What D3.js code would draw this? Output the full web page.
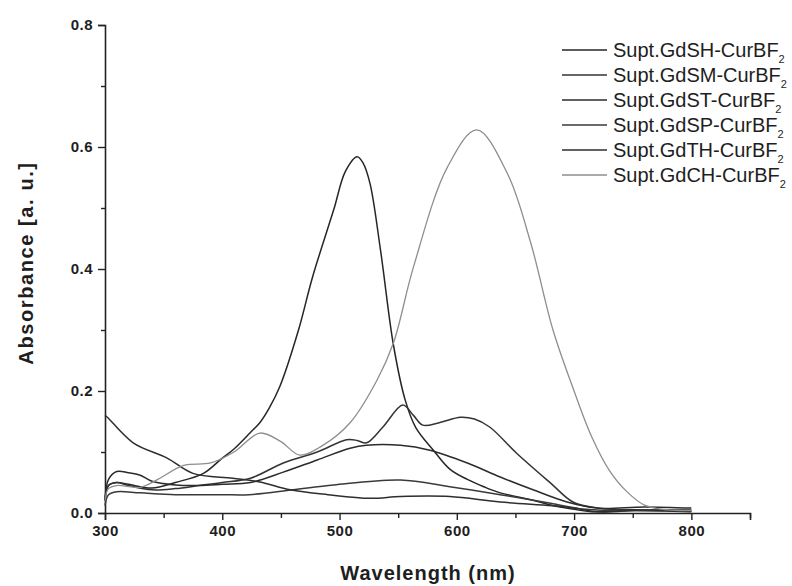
<!DOCTYPE html>
<meta charset="utf-8">
<script src="https://d3js.org/d3.v7.min.js"></script>
<style>
  body { margin: 0; background: #fff; }
  text { font-family: "Liberation Sans", Arial, sans-serif; fill: #1e1e1e; }
</style>
<div id="chart"></div>
<script>

// series names (legend order)
var names = ["Supt.GdSH-CurBF", "Supt.GdSM-CurBF", "Supt.GdST-CurBF",
             "Supt.GdSP-CurBF", "Supt.GdTH-CurBF", "Supt.GdCH-CurBF"];

// wavelength (nm) / absorbance pairs
var gdSH_wl = [300, 303, 310, 320, 340, 360, 384, 400, 410, 424, 432, 440, 449, 465, 477, 495, 505, 515, 520, 526, 535, 546, 556, 565, 580, 594, 609, 623, 637, 665, 680, 700, 715, 750, 800];
var gdSH_ab = [0.02, 0.045, 0.05, 0.047, 0.041, 0.05, 0.065, 0.09, 0.105, 0.132, 0.148, 0.172, 0.207, 0.3, 0.387, 0.497, 0.56, 0.584, 0.574, 0.54, 0.43, 0.275, 0.185, 0.14, 0.103, 0.072, 0.055, 0.043, 0.033, 0.021, 0.013, 0.006, 0.002, 0.004, 0.002];

var gdSM_wl = [300, 303, 310, 320, 340, 360, 380, 400, 424, 452, 481, 506, 515, 523, 537, 554, 563, 571, 585, 603, 615, 628, 651, 680, 699, 720, 760, 800];
var gdSM_ab = [0.02, 0.045, 0.05, 0.045, 0.038, 0.04, 0.045, 0.05, 0.057, 0.082, 0.1, 0.12, 0.119, 0.115, 0.141, 0.177, 0.16, 0.144, 0.148, 0.157, 0.154, 0.141, 0.098, 0.049, 0.018, 0.008, 0.005, 0.005];

var gdST_wl = [300, 303, 310, 320, 330, 340, 360, 380, 400, 424, 452, 481, 509, 523, 552, 577, 609, 637, 665, 694, 720, 760, 800];
var gdST_ab = [0.02, 0.055, 0.068, 0.066, 0.062, 0.052, 0.046, 0.045, 0.047, 0.05, 0.067, 0.087, 0.106, 0.111, 0.111, 0.103, 0.082, 0.059, 0.038, 0.018, 0.008, 0.01, 0.008];

var gdSP_wl = [300, 303, 310, 330, 360, 400, 423, 460, 495, 552, 594, 637, 680, 710, 760, 800];
var gdSP_ab = [0.012, 0.03, 0.035, 0.033, 0.03, 0.03, 0.03, 0.038, 0.046, 0.054, 0.043, 0.03, 0.016, 0.006, 0.004, 0.004];

var gdTH_wl = [300, 302, 324, 353, 375, 409, 432, 458, 490, 526, 552, 594, 637, 694, 720, 760, 800];
var gdTH_ab = [0.16, 0.157, 0.115, 0.09, 0.065, 0.057, 0.051, 0.038, 0.03, 0.024, 0.027, 0.027, 0.018, 0.01, 0.002, 0.005, 0.003];

var gdCH_wl = [300, 303, 310, 330, 345, 367, 390, 410, 432, 450, 466, 485, 509, 532, 546, 563, 592, 617, 643, 663, 682, 700, 715, 730, 745, 760, 780, 800];
var gdCH_ab = [0.02, 0.04, 0.045, 0.042, 0.055, 0.078, 0.082, 0.1, 0.131, 0.117, 0.095, 0.11, 0.148, 0.218, 0.279, 0.403, 0.567, 0.628, 0.557, 0.443, 0.3, 0.2, 0.125, 0.07, 0.035, 0.013, 0.005, 0.004];

var seriesWl = [gdSH_wl, gdSM_wl, gdST_wl, gdSP_wl, gdTH_wl, gdCH_wl];
var seriesAb = [gdSH_ab, gdSM_ab, gdST_ab, gdSP_ab, gdTH_ab, gdCH_ab];
var colors = ["#262626", "#333333", "#2b2b2b", "#3a3a3a", "#2e2e2e", "#8e8e8e"];

var xMajor = [300, 400, 500, 600, 700, 800];
var xMinor = [350, 450, 550, 650, 750, 850];
var yMajor = [0.0, 0.2, 0.4, 0.6, 0.8];
var yMinor = [0.1, 0.3, 0.5, 0.7];

var W = 792, H = 586;
var svg = d3.select("#chart").append("svg")
  .attr("width", W).attr("height", H);

var x = d3.scaleLinear().domain([300, 850]).range([105, 750]);
var y = d3.scaleLinear().domain([0, 0.8]).range([513, 25]);

// x axis
var gx = svg.append("g").attr("transform", "translate(0," + y(0) + ")");
gx.call(d3.axisBottom(x).tickValues(xMajor).tickSize(7).tickPadding(5).tickFormat(d3.format("d")));
gx.append("g").call(d3.axisBottom(x).tickValues(xMinor).tickSize(5).tickFormat(""))
  .select(".domain").remove();

// y axis
var gy = svg.append("g").attr("transform", "translate(" + x(300) + ",0)");
gy.call(d3.axisLeft(y).tickValues(yMajor).tickSize(7).tickPadding(5).tickFormat(d3.format(".1f")));
gy.append("g").call(d3.axisLeft(y).tickValues(yMinor).tickSize(4).tickFormat(""))
  .select(".domain").remove();

svg.selectAll(".tick text")
  .style("font-size", "15px").style("font-weight", "bold").style("letter-spacing", "0.5px")
  .attr("fill", "#262626");
svg.selectAll(".domain").attr("stroke", "#222").attr("stroke-width", 1.6);
svg.selectAll(".tick line").attr("stroke", "#222").attr("stroke-width", 1.4);

// axis titles
svg.append("text")
  .attr("x", 428).attr("y", 580)
  .style("text-anchor", "middle")
  .style("font-size", "20px").style("font-weight", "bold").style("letter-spacing", "1px")
  .text("Wavelength (nm)");

svg.append("text")
  .attr("transform", "translate(33,263) rotate(-90)")
  .style("text-anchor", "middle")
  .style("font-size", "20px").style("font-weight", "bold").style("letter-spacing", "1.6px")
  .text("Absorbance [a. u.]");

// curves
var line = d3.line()
  .x(function(d) { return x(d[0]); })
  .y(function(d) { return y(d[1]); })
  .curve(d3.curveCatmullRom.alpha(0.5));

seriesWl.forEach(function(wl, i) {
  var pts = wl.map(function(w, j) { return [w, seriesAb[i][j]]; });
  svg.append("path")
    .attr("d", line(pts))
    .attr("fill", "none")
    .attr("stroke", colors[i])
    .attr("stroke-width", i == 5 ? 1.3 : 1.5);
});

// legend
var leg = svg.append("g");
names.forEach(function(n, i) {
  var ly = 50 + i * 25;
  leg.append("line")
    .attr("x1", 562).attr("x2", 607).attr("y1", ly).attr("y2", ly)
    .attr("stroke", colors[i]).attr("stroke-width", 1.6);
  var t = leg.append("text")
    .attr("x", 613).attr("y", ly + 7)
    .style("font-size", "20px")
    .text(n);
  t.append("tspan").attr("dy", 6).style("font-size", "11px").text("2");
});

</script>
